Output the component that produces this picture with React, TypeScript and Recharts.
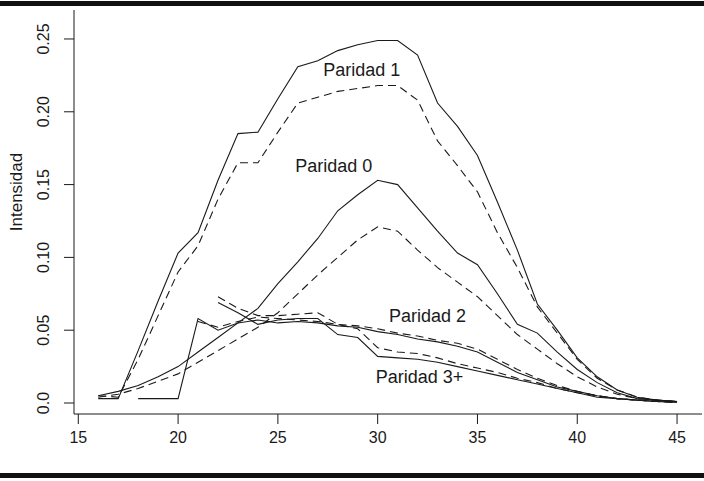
import React from "react";
import {
  LineChart,
  Line,
  XAxis,
  YAxis,
  ReferenceDot,
} from "recharts";

// edad de la madre
const AGES = [
  16, 17, 18, 19, 20, 21, 22, 23, 24, 25, 26, 27, 28, 29, 30,
  31, 32, 33, 34, 35, 36, 37, 38, 39, 40, 41, 42, 43, 44, 45,
];

// solid = observed, dashed = second estimate
const P0_SOLID = [
  0.005, 0.008, 0.012, 0.018, 0.025, 0.035, 0.045, 0.055, 0.065, 0.082, 0.097, 0.113, 0.132, 0.143, 0.153,
  0.15, 0.134, 0.118, 0.103, 0.095, 0.075, 0.054, 0.048, 0.035, 0.023, 0.014, 0.007, 0.003, 0.002, 0.001,
];
const P0_DASHED = [
  0.004, 0.006, 0.01, 0.015, 0.02, 0.028, 0.036, 0.044, 0.052, 0.062, 0.075, 0.088, 0.1, 0.112, 0.121,
  0.118, 0.105, 0.093, 0.083, 0.073, 0.06, 0.047, 0.037, 0.027, 0.018, 0.011, 0.006, 0.003, 0.002, 0.001,
];
const P1_SOLID = [
  0.003, 0.003, 0.036, 0.07, 0.103, 0.117, 0.153, 0.185, 0.186, 0.209, 0.231, 0.235, 0.242, 0.246, 0.249,
  0.249, 0.239, 0.206, 0.19, 0.17, 0.138, 0.105, 0.068, 0.05, 0.031, 0.018, 0.009, 0.004, 0.002, 0.001,
];
const P1_DASHED = [
  0.005, 0.004, 0.03, 0.06, 0.09, 0.108, 0.14, 0.165, 0.165, 0.186, 0.206, 0.21, 0.214, 0.216, 0.218,
  0.218, 0.208, 0.18, 0.163, 0.145, 0.117, 0.093, 0.066, 0.048, 0.03, 0.017, 0.009, 0.004, 0.002, 0.001,
];
const P2_SOLID = [
  null, null, 0.003, 0.003, 0.003, 0.058, 0.05, 0.055, 0.057, 0.055, 0.056, 0.055, 0.053, 0.052, 0.049,
  0.047, 0.044, 0.042, 0.039, 0.035, 0.028, 0.021, 0.016, 0.011, 0.008, 0.005, 0.003, 0.002, 0.001, 0.0005,
];
const P2_DASHED = [
  null, null, null, null, null, 0.056, 0.052, 0.056, 0.059, 0.058, 0.057, 0.056, 0.054, 0.053, 0.051,
  0.048, 0.046, 0.043, 0.041, 0.037, 0.03, 0.023, 0.017, 0.012, 0.008, 0.005, 0.003, 0.002, 0.001, 0.0005,
];
const P3_SOLID = [
  null, null, null, null, null, null, 0.069, 0.062, 0.054, 0.057, 0.058, 0.058, 0.047, 0.045, 0.032,
  0.031, 0.03, 0.028, 0.025, 0.022, 0.019, 0.016, 0.013, 0.01, 0.007, 0.004, 0.003, 0.002, 0.001, 0.0005,
];
const P3_DASHED = [
  null, null, null, null, null, null, 0.073, 0.065, 0.06, 0.06, 0.061, 0.062, 0.054, 0.051, 0.038,
  0.035, 0.034, 0.031, 0.027, 0.024, 0.021, 0.017, 0.014, 0.01, 0.007, 0.005, 0.003, 0.002, 0.001, 0.0005,
];

const X_TICKS = [15, 20, 25, 30, 35, 40, 45];
const Y_TICKS = [0, 0.05, 0.1, 0.15, 0.2, 0.25];
const Y_TICK_LABELS = ["0.0", "0.05", "0.10", "0.15", "0.20", "0.25"];

const LABELS = [
  { text: "Paridad 1", age: 29.2, value: 0.229 },
  { text: "Paridad 0", age: 27.8, value: 0.163 },
  { text: "Paridad 2", age: 32.5, value: 0.06 },
  { text: "Paridad 3+", age: 32.1, value: 0.018 },
];

const FONT = '"Liberation Sans", Arial, Helvetica, sans-serif';
const INK = "#1a1a1a";

const data = AGES.map((age, i) => ({
  age,
  p0s: P0_SOLID[i],
  p0d: P0_DASHED[i],
  p1s: P1_SOLID[i],
  p1d: P1_DASHED[i],
  p2s: P2_SOLID[i],
  p2d: P2_DASHED[i],
  p3s: P3_SOLID[i],
  p3d: P3_DASHED[i],
}));

const series = [
  { key: "p1s", dashed: false },
  { key: "p1d", dashed: true },
  { key: "p0s", dashed: false },
  { key: "p0d", dashed: true },
  { key: "p2s", dashed: false },
  { key: "p2d", dashed: true },
  { key: "p3s", dashed: false },
  { key: "p3d", dashed: true },
];

function XTick({ x, y, payload }: any) {
  return (
    <text x={x} y={y + 19} textAnchor="middle" fontSize={16} fill={INK} fontFamily={FONT}>
      {payload.value}
    </text>
  );
}

function YTick({ x, y, payload }: any) {
  const idx = Y_TICKS.indexOf(payload.value);
  const tx = x - 15;
  return (
    <text
      x={tx}
      y={y}
      transform={`rotate(-90, ${tx}, ${y})`}
      textAnchor="middle"
      fontSize={16}
      fill={INK}
      fontFamily={FONT}
    >
      {idx >= 0 ? Y_TICK_LABELS[idx] : payload.value}
    </text>
  );
}

export default function App() {
  return (
    <div
      style={{
        position: "absolute",
        left: 0,
        top: 0,
        width: 704,
        height: 481,
        background: "#fff",
        overflow: "hidden",
      }}
    >
      <div style={{ position: "absolute", left: 0, top: 1, width: 704, height: 5, background: "#111" }} />
      <div style={{ position: "absolute", left: 0, top: 473, width: 704, height: 5, background: "#111" }} />

      <LineChart
        width={704}
        height={481}
        data={data}
        margin={{ top: 10, right: 2, bottom: 0, left: 0 }}
      >
        <XAxis
          dataKey="age"
          type="number"
          domain={[14.785, 46.25]}
          ticks={X_TICKS}
          allowDataOverflow
          height={67}
          tickSize={10}
          tickMargin={0}
          stroke={INK}
          tick={<XTick />}
        />
        <YAxis
          type="number"
          domain={[-0.00755, 0.2699]}
          ticks={Y_TICKS}
          allowDataOverflow
          width={74}
          tickSize={10}
          tickMargin={0}
          stroke={INK}
          tick={<YTick />}
        />
        {series.map((s) => (
          <Line
            key={s.key}
            dataKey={s.key}
            type="linear"
            stroke={INK}
            strokeWidth={1.1}
            strokeDasharray={s.dashed ? "8 5" : undefined}
            dot={false}
            activeDot={false}
            isAnimationActive={false}
          />
        ))}
        {LABELS.map((l) => (
          <ReferenceDot
            key={l.text}
            x={l.age}
            y={l.value}
            r={1}
            fill="none"
            stroke="none"
            label={{
              value: l.text,
              position: "center",
              fill: INK,
              fontSize: 18,
              fontFamily: FONT,
            }}
          />
        ))}
      </LineChart>

      <div
        style={{
          position: "absolute",
          left: 17,
          top: 192,
          transform: "translate(-50%, -50%) rotate(-90deg)",
          fontFamily: FONT,
          fontSize: 17,
          color: INK,
          whiteSpace: "nowrap",
        }}
      >
        Intensidad
      </div>
    </div>
  );
}
